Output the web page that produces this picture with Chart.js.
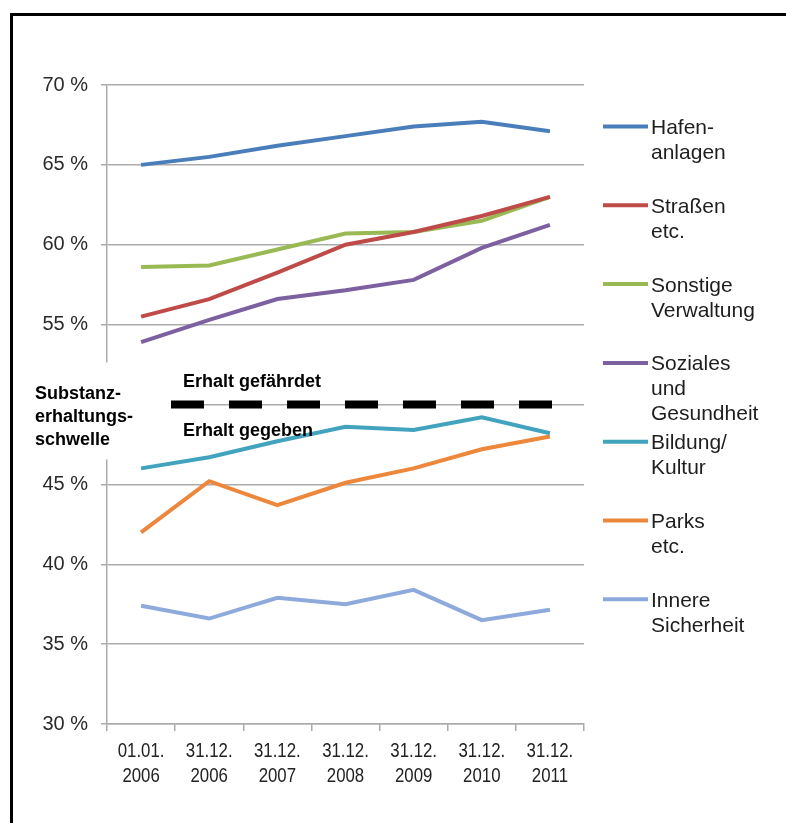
<!DOCTYPE html>
<html>
<head>
<meta charset="utf-8">
<script src="https://cdn.jsdelivr.net/npm/chart.js@4"></script>
<style>
html,body{margin:0;padding:0;background:#fff;overflow:hidden;}
canvas{display:block;}
</style>
</head>
<body>
<canvas id="c" width="786" height="823"></canvas>
<script>
// ---- data ----
const categories = [['01.01.','2006'],['31.12.','2006'],['31.12.','2007'],['31.12.','2008'],['31.12.','2009'],['31.12.','2010'],['31.12.','2011']];
const hafenanlagen = [65.0, 65.5, 66.2, 66.8, 67.4, 67.7, 67.1];
const strassen = [55.5, 56.6, 58.25, 60.0, 60.8, 61.8, 63.0];
const sonstigeVerwaltung = [58.6, 58.7, 59.7, 60.7, 60.8, 61.5, 63.0];
const sozialesGesundheit = [53.9, 55.3, 56.6, 57.15, 57.8, 59.8, 61.25];
const bildungKultur = [46.0, 46.7, 47.7, 48.6, 48.4, 49.2, 48.2];
const parks = [42.0, 45.2, 43.7, 45.1, 46.0, 47.2, 48.0];
const innereSicherheit = [37.4, 36.6, 37.9, 37.5, 38.4, 36.5, 37.15];
const seriesLabels = [['Hafen-','anlagen'],['Straßen','etc.'],['Sonstige','Verwaltung'],['Soziales','und','Gesundheit'],['Bildung/','Kultur'],['Parks','etc.'],['Innere','Sicherheit']];
const seriesColors = ['#4A7EBB','#BE4B48','#98B954','#7D60A0','#42A3BE','#EC873C','#8EA9DB'];
const yTicks = {min:30, max:70, step:5};
const threshold = 50;
const thresholdTexts = {above:'Erhalt gefährdet', below:'Erhalt gegeben', side:['Substanz-','erhaltungs-','schwelle']};

const seriesData = [hafenanlagen, strassen, sonstigeVerwaltung, sozialesGesundheit, bildungKultur, parks, innereSicherheit];

const gridColor = '#ABABAB';

const decor = {
  id:'decor',
  beforeDraw(chart){
    const ctx = chart.ctx;
    ctx.save();
    ctx.fillStyle = '#fff';
    ctx.fillRect(0,0,chart.width,chart.height);
    ctx.fillStyle = '#000';
    ctx.fillRect(10,13,chart.width-10,3);
    ctx.fillRect(10,13,3,chart.height-13);
    ctx.restore();
    // condensed x-axis labels (narrow font look)
    const xs = chart.scales.x;
    if (!xs._narrowed) {
      const orig = xs.drawLabels.bind(xs);
      xs.drawLabels = function(a){
        const c = this.ctx;
        c.fillText = function(t,x,y,mw){
          this.save(); this.translate(x,y); this.scale(0.84,1);
          CanvasRenderingContext2D.prototype.fillText.call(this,t,0,0);
          this.restore();
        };
        orig(a);
        delete c.fillText;
      };
      xs._narrowed = true;
    }
  },
  afterDatasetsDraw(chart){
    const ctx = chart.ctx;
    const ca = chart.chartArea;
    const y = chart.scales.y.getPixelForValue(threshold);
    ctx.save();
    // white box behind side label
    ctx.fillStyle = '#fff';
    ctx.fillRect(20, y-42, ca.left+68-20, 97);
    // dashed threshold line
    ctx.strokeStyle = '#000';
    ctx.lineWidth = 8;
    ctx.setLineDash([33,25]);
    ctx.beginPath();
    ctx.moveTo(ca.left+64, y);
    ctx.lineTo(ca.right-31, y);
    ctx.stroke();
    ctx.setLineDash([]);
    // texts
    ctx.fillStyle = '#000';
    ctx.font = 'bold 18px "Liberation Sans", Arial, sans-serif';
    ctx.textBaseline = 'alphabetic';
    ctx.textAlign = 'left';
    ctx.fillText(thresholdTexts.above, ca.left+76, y-18);
    ctx.fillText(thresholdTexts.below, ca.left+76, y+31);
    thresholdTexts.side.forEach((t,i)=>{
      ctx.fillText(t, 35, y-6 + i*23);
    });
    // legend
    ctx.font = '21px "Liberation Sans", Arial, sans-serif';
    ctx.fillStyle = '#1e1e1e';
    const lx0 = ca.right+19, lx1 = ca.right+64, tx = ca.right+67;
    chart.data.datasets.forEach((ds,i)=>{
      const base = 134 + i*78.8;
      ctx.strokeStyle = ds.borderColor;
      ctx.lineWidth = 4;
      ctx.beginPath();
      ctx.moveTo(lx0, base-7.5);
      ctx.lineTo(lx1, base-7.5);
      ctx.stroke();
      seriesLabels[i].forEach((t,j)=>{
        ctx.fillText(t, tx, base + j*25);
      });
    });
    ctx.restore();
  }
};

new Chart(document.getElementById('c'), {
  type:'line',
  data:{
    labels: categories,
    datasets: seriesData.map((d,i)=>({
      label: seriesLabels[i].join(' '),
      data: d,
      borderColor: seriesColors[i],
      backgroundColor: seriesColors[i],
      borderWidth: 4,
      pointRadius: 0,
      tension: 0,
      fill: false
    }))
  },
  options:{
    responsive:false,
    animation:false,
    layout:{padding:{left:0, top:85, right:202, bottom:0}},
    plugins:{legend:{display:false}, tooltip:{enabled:false}},
    scales:{
      x:{
        offset:true,
        grid:{drawOnChartArea:false, offset:true, tickLength:7, color:gridColor, lineWidth:1.5},
        border:{color:gridColor, width:1.5},
        ticks:{color:'#222', padding:8, maxRotation:0, autoSkip:false,
          font:{family:'"Liberation Sans", Arial, sans-serif', size:20, lineHeight:1.25}},
        afterFit(s){ s.height = 99; }
      },
      y:{
        min:yTicks.min, max:yTicks.max,
        grid:{color:gridColor, lineWidth:1.5, tickLength:6},
        border:{color:gridColor, width:1.5},
        ticks:{stepSize:yTicks.step, color:'#2a2a2a', padding:13,
          font:{family:'"Liberation Sans", Arial, sans-serif', size:20},
          callback:v=>v+' %'},
        afterFit(s){ s.width = 107; }
      }
    }
  },
  plugins:[decor]
});
</script>
</body>
</html>
